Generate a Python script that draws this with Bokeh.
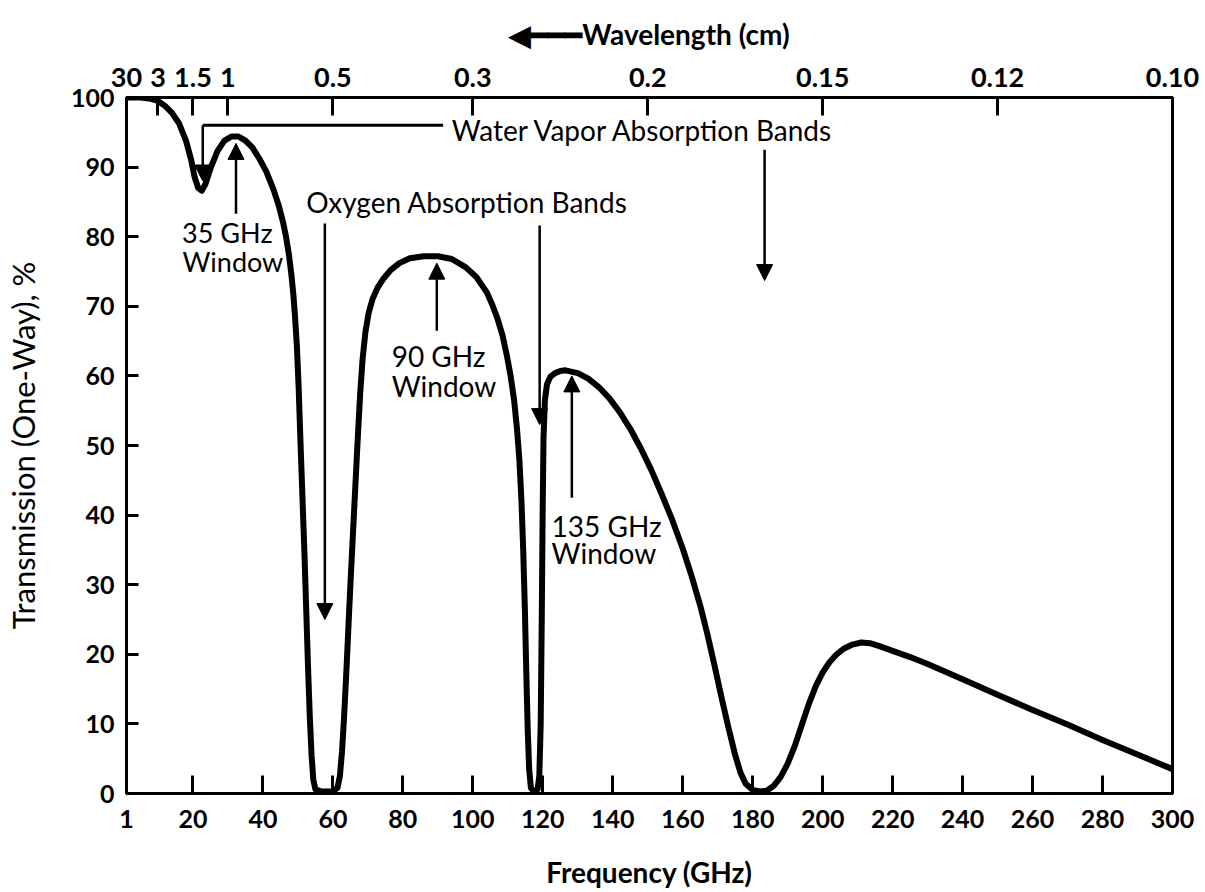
from bokeh.plotting import figure
from bokeh.models import (LinearAxis, FixedTicker, Range1d, Label, Arrow, NormalHead)
from bokeh.embed import file_html
from bokeh.resources import INLINE

# ---- data ----
freq_ghz = [1, 5, 8, 10, 12, 14, 16, 18, 19.5, 20.5, 21.5, 22.5, 23.5, 25, 27, 29, 31, 33, 35, 37,
            39, 41, 43, 44.5, 45.7, 46.6, 47.4, 48.1, 48.7, 49.2, 49.7, 50.2, 50.7, 51.3, 51.9,
            52.4, 52.9, 53.4, 53.9, 54.4, 55, 56.5, 58, 60, 61.3, 62, 62.6, 63.2, 63.8, 64.4, 65,
            65.7, 66.4, 67.1, 67.8, 68.5, 69.3, 70.2, 71.3, 72.8, 74.5, 76.5, 79, 82, 86, 90, 94,
            98, 101, 104, 105.5, 107, 108.5, 109.7, 110.8, 111.8, 112.6, 113.3, 113.9, 114.4,
            114.9, 115.3, 115.7, 116.1, 116.6, 117.5, 118.5, 119, 119.4, 119.7, 119.95, 120.2,
            120.6, 121.2, 122.2, 123.5, 125, 126.5, 130, 133, 136, 139, 142, 145, 148, 151, 154,
            157, 160, 162.5, 165, 167, 169, 171, 173, 175, 176.5, 178, 180, 182, 184, 186, 188,
            190, 192, 194, 196, 198, 200, 202, 204, 206, 208.5, 211, 213.5, 216, 220, 225, 230,
            240, 250, 260, 270, 280, 290, 300]
transmission_pct = [100, 100, 99.8, 99.5, 98.8, 97.8, 96.3, 93.8, 91, 88.5, 87, 86.6, 87.5, 89.8,
                    92.3, 93.8, 94.4, 94.4, 93.8, 92.8, 91.2, 89.3, 86.8, 84.5, 82.2, 80, 77.5,
                    74.7, 71.7, 68.3, 64.3, 58.5, 51, 42.5, 34, 26, 18, 11, 5.5, 2, 0.6, 0.3, 0.3,
                    0.3, 0.8, 2.5, 6, 11, 17, 23.5, 30, 37, 44, 51, 57.5, 62.5, 66.3, 69, 71, 72.7,
                    74, 75.2, 76.2, 76.9, 77.2, 77.2, 76.8, 75.6, 74.2, 72, 70.3, 68.3, 65.8, 63,
                    60, 56.5, 52.5, 48, 42, 35, 26, 17, 9, 3.5, 0.8, 0.3, 0.6, 2.5, 10, 25, 40, 51,
                    56.5, 58.8, 59.9, 60.4, 60.7, 60.8, 60.4, 59.6, 58.4, 56.8, 54.8, 52.4, 49.6,
                    46.5, 43, 39.3, 35.2, 31.3, 27, 23, 18.6, 14, 9.6, 5.5, 3, 1.4, 0.5, 0.3, 0.4,
                    1.1, 2.4, 4.3, 6.8, 9.8, 12.8, 15.4, 17.4, 18.9, 20, 20.8, 21.4, 21.7, 21.6,
                    21.2, 20.5, 19.6, 18.6, 16.4, 14.2, 12, 9.9, 7.7, 5.6, 3.5]

bottom_ticks = [1, 20, 40, 60, 80, 100, 120, 140, 160, 180, 200, 220, 240, 260, 280, 300]
left_ticks = [0, 10, 20, 30, 40, 50, 60, 70, 80, 90, 100]
wavelength_labels = ["30", "3", "1.5", "1", "0.5", "0.3", "0.2", "0.15", "0.12", "0.10"]
wavelength_cm = [30, 3, 1.5, 1, 0.5, 0.3, 0.2, 0.15, 0.12, 0.10]
top_ticks = [round(30.0 / w, 6) for w in wavelength_cm]   # f(GHz) = 30 / lambda(cm)

FONT = "Lato"

p = figure(width=1205, height=892, output_backend="svg", toolbar_location=None,
           x_range=Range1d(1, 300), y_range=Range1d(0, 100),
           x_axis_location=None, y_axis_location=None,
           min_border_left=126, min_border_right=33, min_border_top=97, min_border_bottom=99)
p.xgrid.visible = False
p.ygrid.visible = False
p.outline_line_color = "black"
p.outline_line_width = 3
p.background_fill_color = "white"
p.border_fill_color = "white"


def style_axis(ax, tick_in, size="25px"):
    ax.axis_line_color = "black"
    ax.axis_line_width = 3
    ax.major_tick_line_color = "black"
    ax.major_tick_line_width = 3
    ax.major_tick_in = tick_in
    ax.major_tick_out = 0
    ax.minor_tick_line_color = None
    ax.major_label_text_font = FONT
    ax.major_label_text_font_size = size
    ax.major_label_text_font_style = "bold"
    ax.major_label_text_color = "black"
    ax.axis_label_text_font = FONT
    ax.axis_label_text_font_size = "28px"
    ax.axis_label_text_font_style = "bold"
    ax.axis_label_text_color = "black"


bottom = LinearAxis(ticker=FixedTicker(ticks=bottom_ticks), axis_label="Frequency (GHz)")
style_axis(bottom, 18)
bottom.major_label_standoff = 16
bottom.axis_label_standoff = 24
p.add_layout(bottom, "below")

left = LinearAxis(ticker=FixedTicker(ticks=left_ticks), axis_label="Transmission (One-Way), %")
style_axis(left, 12)
left.major_label_standoff = 12
left.axis_label_standoff = 26
left.axis_label_text_font_style = "normal"
left.axis_label_text_font_size = "31px"
p.add_layout(left, "left")

top = LinearAxis(ticker=FixedTicker(ticks=top_ticks),
                 major_label_overrides={t: s for t, s in zip(top_ticks, wavelength_labels)},
                 axis_label="\u25c0\u2501\u2501\u2501Wavelength (cm)")
style_axis(top, 18, size="27px")
top.major_label_standoff = 11
top.axis_label_standoff = 14
p.add_layout(top, "above")

# curve
p.line(freq_ghz, transmission_pct, line_color="black", line_width=6, line_join="round", line_cap="round")

# ---- annotations ----
def add_label(x, y, text, size="28px"):
    p.add_layout(Label(x=x, y=y, text=text, text_font=FONT, text_font_size=size,
                       text_font_style="normal", text_color="black",
                       text_align="left", text_baseline="middle"))


def add_arrow(x0, y0, x1, y1, size=16, width=2.5):
    p.add_layout(Arrow(x_start=x0, y_start=y0, x_end=x1, y_end=y1, line_width=width,
                       line_color="black",
                       end=NormalHead(size=size, fill_color="black", line_color="black", line_width=1)))


# water vapour bracket
p.line([22.8, 91.5], [96, 96], line_color="black", line_width=3)
add_arrow(22.8, 96, 22.8, 88.0)
add_label(94, 95.3, "Water Vapor Absorption Bands")
add_arrow(183.4, 92.5, 183.4, 73.7)

# 35 GHz window
add_label(16.9, 80.6, "35 GHz", size="27px")
add_label(17.0, 76.4, "Window", size="27px")
add_arrow(32.3, 83.3, 32.3, 93.4)

# oxygen
add_label(52.4, 85, "Oxygen Absorption Bands")
add_arrow(57.7, 81.9, 57.7, 25)
add_arrow(119.1, 81.6, 119.1, 53)

# 90 GHz window
add_label(76.8, 62.9, "90 GHz")
add_label(76.8, 58.6, "Window")
add_arrow(89.7, 66.5, 89.7, 76.2)

# 135 GHz window
add_label(122.5, 38.5, "135 GHz")
add_label(122.5, 34.5, "Window")
add_arrow(128.3, 42.5, 128.3, 60)

open("out.html", "w").write(file_html(p, INLINE))
